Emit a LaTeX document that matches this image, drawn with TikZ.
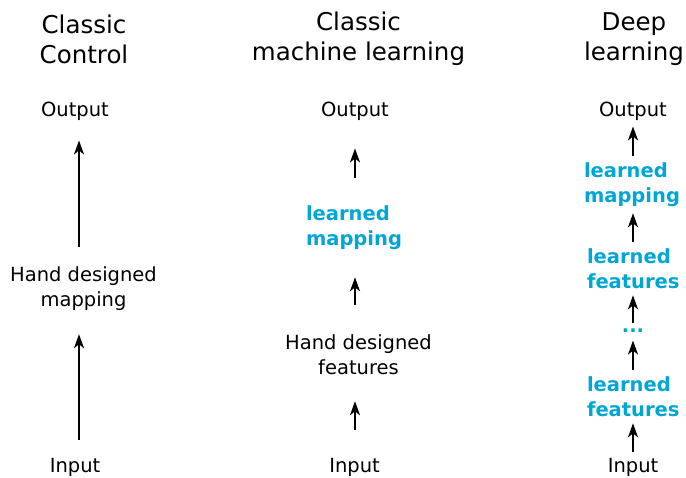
\documentclass[tikz,border=0pt]{standalone}
\usepackage{fontspec}
\setmainfont{DejaVu Sans}
\usetikzlibrary{arrows.meta}
\definecolor{learn}{RGB}{0,166,214}
\tikzset{
  title/.style={inner sep=0pt, align=center, font=\fontsize{24.5}{30}\selectfont},
  txt/.style={inner sep=0pt, align=center, font=\fontsize{19.5}{25}\selectfont},
  lrn/.style={inner sep=0pt, align=left, text=learn, font=\fontsize{19.5}{25}\selectfont\bfseries},
  arr/.style={line width=2pt, -{Stealth[length=14pt,width=10pt,inset=4pt]}}
}
\begin{document}
\begin{tikzpicture}[x=1pt,y=-1pt]
\useasboundingbox (0,0) rectangle (686,477);
% titles
\node[title] (t1) at (84,39) {Classic\\Control};
\node[title] (t2) at (358.5,39) {Classic\\machine learning};
\node[title] (t3) at (634,39) {Deep\\learning};
% axes
\coordinate (ax1) at (79,0);
\coordinate (ax2) at (355,0);
\coordinate (ax3) at (633,0);
% column 1
\node[txt] (out1) at (75,111) {Output};
\node[txt] (hd1) at (83.5,288.5) {Hand designed\\mapping};
\node[txt] (in1) at (75,467.5) {Input};
\draw[arr, shorten <=19.6pt, shorten >=20pt] (hd1.north -| ax1) -- (out1.south -| ax1);
\draw[arr, shorten <=18.4pt, shorten >=23.6pt] (in1.north -| ax1) -- (hd1.south -| ax1);
% column 2
\node[txt] (out2) at (355,111) {Output};
\node[lrn] (lm2) at (354,227.5) {learned\\mapping};
\node[txt] (hf2) at (358.5,354.5) {Hand designed\\features};
\node[txt] (in2) at (354.5,467.5) {Input};
\draw[arr, shorten <=27.6pt, shorten >=28pt] (lm2.north -| ax2) -- (out2.south -| ax2);
\draw[arr, shorten <=29.5pt, shorten >=27.6pt] (hf2.north -| ax2) -- (lm2.south -| ax2);
\draw[arr, shorten <=28.4pt, shorten >=26.5pt] (in2.north -| ax2) -- (hf2.south -| ax2);
% column 3
\node[txt] (out3) at (633,111) {Output};
\node[lrn] (lm3) at (632,184.5) {learned\\mapping};
\node[lrn] (lfa3) at (633.3,269) {learned\\features};
\node[lrn] (dots3) at (633,331) {...};
\node[lrn] (lfb3) at (633.3,396.5) {learned\\features};
\node[txt] (in3) at (633,467.5) {Input};
\draw[arr, shorten <=6.6pt, shorten >=6pt] (lm3.north -| ax3) -- (out3.south -| ax3);
\draw[arr, shorten <=7.1pt, shorten >=6.6pt] (lfa3.north -| ax3) -- (lm3.south -| ax3);
\draw[arr, shorten <=5.5pt, shorten >=6.1pt] (dots3.north -| ax3) -- (lfa3.south -| ax3);
\draw[arr, shorten <=6.6pt, shorten >=7.5pt] (lfb3.north -| ax3) -- (dots3.south -| ax3);
\draw[arr, shorten <=6.4pt, shorten >=6.6pt] (in3.north -| ax3) -- (lfb3.south -| ax3);
\end{tikzpicture}
\end{document}
